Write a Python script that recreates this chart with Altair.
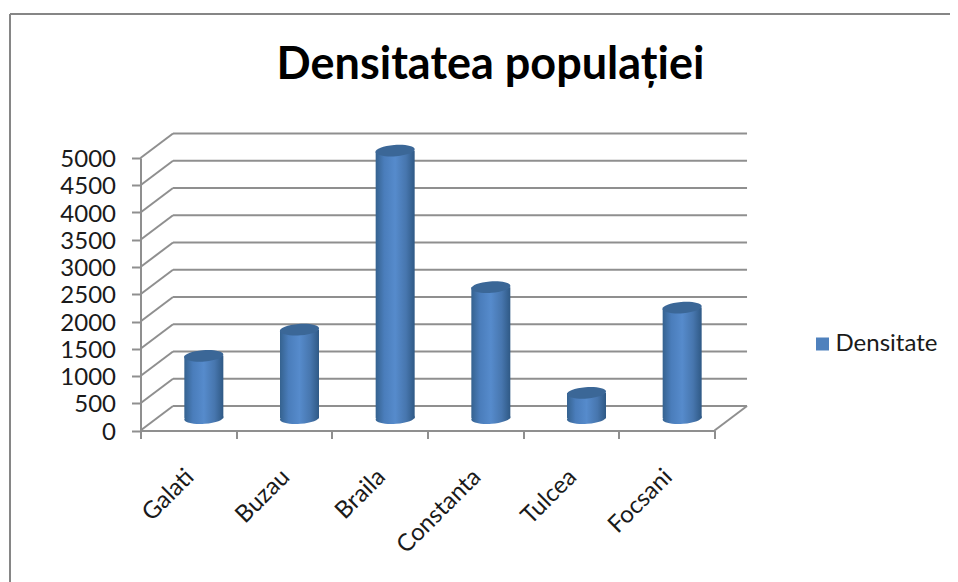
import altair as alt
import pandas as pd

cities = ["Galati", "Buzau", "Braila", "Constanta", "Tulcea", "Focsani"]
density = [1145, 1625, 4910, 2405, 465, 2030]
grid_values = [0, 500, 1000, 1500, 2000, 2500, 3000, 3500, 4000, 4500, 5000]
series_name = "Densitate"
title_text = "Densitatea populației"

N = len(cities)
DEPTH_X = 0.34   # depth of the 3-D box, in category widths
DEPTH_Y = 450    # depth of the 3-D box, in value units
GREY = "#8f8f8f"
FONT = "Lato"
BAR_W = 39
ELLIPSE = "M -1 0.08 A 1 0.29 -4 1 1 1 -0.08 A 1 0.29 -4 1 1 -1 0.08 Z"

bars = pd.DataFrame({"city": cities, "value": density, "base": [0] * N})
yscale = alt.Scale(domain=[0, 5000], nice=False, zero=True)
xq = alt.Scale(domain=[0, N], nice=False, zero=False)
xb = alt.Scale(domain=cities, paddingInner=0, paddingOuter=0)

y_axis = alt.Axis(values=grid_values, grid=False, title=None, domainColor=GREY, domainWidth=2, format="d",
                  tickColor=GREY, tickWidth=2, tickSize=9, labelFontSize=24, labelFont=FONT,
                  labelColor="#1a1a1a", labelPadding=16, labelOffset=1.5)

back = pd.DataFrame({"x": [DEPTH_X] * len(grid_values), "x2": [N + DEPTH_X] * len(grid_values),
                     "y": [v + DEPTH_Y for v in grid_values]})
side = pd.DataFrame({"x": [0] * len(grid_values), "x2": [DEPTH_X] * len(grid_values),
                     "y": grid_values, "y2": [v + DEPTH_Y for v in grid_values]})
floor_r = pd.DataFrame({"x": [N], "x2": [N + DEPTH_X], "y": [0], "y2": [DEPTH_Y]})

back_l = alt.Chart(back).mark_rule(color=GREY, strokeWidth=2, clip=False).encode(
    x=alt.X("x:Q", scale=xq, axis=None), x2="x2:Q",
    y=alt.Y("y:Q", scale=yscale, axis=y_axis),
)
side_l = alt.Chart(side).mark_rule(color=GREY, strokeWidth=2, clip=False).encode(
    x=alt.X("x:Q", scale=xq, axis=None), x2="x2:Q",
    y=alt.Y("y:Q", scale=yscale, axis=y_axis), y2="y2:Q",
)
floor_l = alt.Chart(floor_r).mark_rule(color=GREY, strokeWidth=2, clip=False).encode(
    x=alt.X("x:Q", scale=xq, axis=None), x2="x2:Q",
    y=alt.Y("y:Q", scale=yscale, axis=y_axis), y2="y2:Q",
)

grad = alt.LinearGradient(
    gradient="linear", x1=0, x2=1, y1=0, y2=0,
    stops=[alt.GradientStop(color="#35628f", offset=0),
           alt.GradientStop(color="#4a7dbb", offset=0.22),
           alt.GradientStop(color="#568bcc", offset=0.5),
           alt.GradientStop(color="#4776ae", offset=0.78),
           alt.GradientStop(color="#2f5985", offset=1)],
)

x_axis = alt.Axis(title=None, labelAngle=-45, labelFontSize=24, labelFont=FONT, labelColor="#1a1a1a",
                  labelPadding=26, labelOffset=-7, tickBand="extent", tickColor=GREY, tickWidth=2, tickSize=8,
                  domainColor=GREY, domainWidth=2, labelOverlap=False)
X_BAND = alt.X("city:N", scale=xb, axis=x_axis, sort=cities)
X_NOAX = alt.X("city:N", scale=xb, axis=None, sort=cities)

bottom = alt.Chart(bars).mark_point(shape=ELLIPSE, filled=True, fill=grad, size=BAR_W ** 2, opacity=1,
                                    xOffset=15.5, yOffset=-12.25, clip=False).encode(
    x=X_BAND, y=alt.Y("base:Q", scale=yscale, axis=y_axis))
body = alt.Chart(bars).mark_bar(fill=grad, width=BAR_W, xOffset=15.5, yOffset=-12.25, y2Offset=-12.25,
                                clip=False).encode(
    x=X_NOAX, y=alt.Y("value:Q", scale=yscale, axis=y_axis), y2="base:Q")
top = alt.Chart(bars).mark_point(shape=ELLIPSE, filled=True, fill="#3b6797", size=BAR_W ** 2, opacity=1,
                                 xOffset=15.5, yOffset=-12.25, clip=False).encode(
    x=X_NOAX, y=alt.Y("value:Q", scale=yscale, axis=y_axis))

legend_l = alt.Chart(pd.DataFrame({"s": [series_name]})).mark_square(size=0).encode(
    color=alt.Color("s:N", scale=alt.Scale(domain=[series_name], range=["#4f81bd"]),
                    legend=alt.Legend(title=None, orient="none", legendX=670, legendY=174,
                                      labelFontSize=24, labelFont=FONT, labelColor="#1a1a1a",
                                      symbolType="square", symbolSize=169, symbolOpacity=1,
                                      symbolFillColor="#4f81bd", symbolStrokeWidth=0, labelOffset=1)))

frame_top = alt.Chart(pd.DataFrame({"a": [0]})).mark_rule(color="#868686", strokeWidth=2, clip=False).encode(
    x=alt.value(-130.5), x2=alt.value(812), y=alt.value(-144))
frame_left = alt.Chart(pd.DataFrame({"a": [0]})).mark_rule(color="#868686", strokeWidth=2, clip=False).encode(
    x=alt.value(-130.5), y=alt.value(-144), y2=alt.value(424))

chart = alt.layer(frame_top, frame_left, back_l, side_l, floor_l, bottom, body, top, legend_l).resolve_scale(
    x="independent"
).properties(
    width=574, height=272.5,
    padding={"left": 132.5, "top": 150, "right": 235.5, "bottom": 151.5},
    autosize=alt.AutoSizeParams(type="none"),
    background="#ffffff",
    title=alt.Title(title_text, font=FONT, fontSize=45, fontWeight="bold", color="#000000",
                    anchor="middle", baseline="alphabetic", dx=63, offset=-111),
).configure_view(stroke=None)

chart.save("out.html", embed_options={"renderer": "svg", "actions": False})
